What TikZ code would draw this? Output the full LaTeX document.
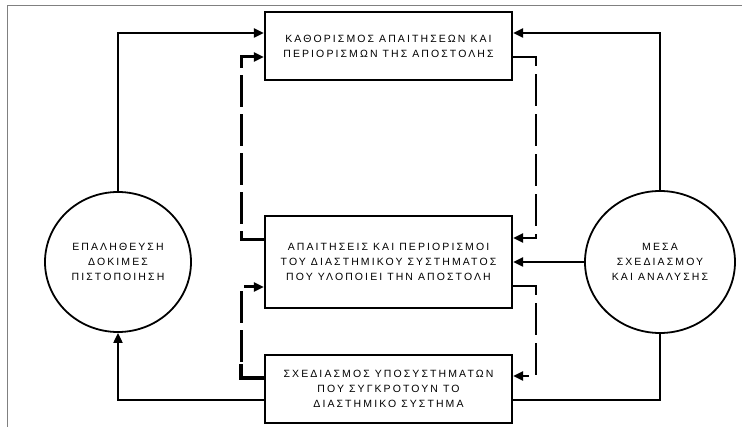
\documentclass[tikz,border=0pt]{standalone}
\usepackage{fontspec}
\newfontfamily\grfont[LetterSpace=20]{Liberation Sans}
\usetikzlibrary{arrows.meta,shapes.geometric}
\begin{document}
\begin{tikzpicture}[x=1pt,y=-1pt,
  lbl/.style={align=center,font=\grfont\fontsize{10.5}{15}\selectfont},
  box/.style={lbl,draw,line width=2.2pt,minimum width=247pt,inner sep=0pt},
  circ/.style={lbl,draw,ellipse,line width=1.8pt,inner sep=0pt},
  conn/.style={line width=2pt},
  tip/.style={-{Triangle[length=10pt,width=9pt]}},
  arr/.style={conn,tip},
  dashL/.style={line width=3pt,dash pattern=on 32pt off 7pt,tip},
  dashR/.style={line width=2.2pt,dash pattern=on 32pt off 8pt,tip},
]
\useasboundingbox (0,0) rectangle (742,427);
\draw[gray,line width=1pt] (742,6) -- (7.5,6) -- (7.5,427);

\node[box,minimum height=68pt] (top) at (388.5,46)
  {ΚΑΘΟΡΙΣΜΟΣ ΑΠΑΙΤΗΣΕΩΝ ΚΑΙ\\ΠΕΡΙΟΡΙΣΜΩΝ ΤΗΣ ΑΠΟΣΤΟΛΗΣ};
\node[box,minimum height=92pt] (mid) at (388.5,262)
  {ΑΠΑΙΤΗΣΕΙΣ ΚΑΙ ΠΕΡΙΟΡΙΣΜΟΙ\\ΤΟΥ ΔΙΑΣΤΗΜΙΚΟΥ ΣΥΣΤΗΜΑΤΟΣ\\ΠΟΥ ΥΛΟΠΟΙΕΙ ΤΗΝ ΑΠΟΣΤΟΛΗ};
\node[box,minimum height=68pt] (bot) at (388.5,389)
  {ΣΧΕΔΙΑΣΜΟΣ ΥΠΟΣΥΣΤΗΜΑΤΩΝ\\ΠΟΥ ΣΥΓΚΡΟΤΟΥΝ ΤΟ\\ΔΙΑΣΤΗΜΙΚΟ ΣΥΣΤΗΜΑ};
\node[circ,minimum width=146pt,minimum height=140pt] (lc) at (118,262)
  {ΕΠΑΛΗΘΕΥΣΗ\\ΔΟΚΙΜΕΣ\\ΠΙΣΤΟΠΟΙΗΣΗ};
\node[circ,minimum width=150pt,minimum height=142pt] (rc) at (660,262)
  {ΜΕΣΑ\\ΣΧΕΔΙΑΣΜΟΥ\\ΚΑΙ ΑΝΑΛΥΣΗΣ};

\coordinate (tW1) at ([yshift=13pt]top.west);
\coordinate (tW2) at ([yshift=-11pt]top.west);
\coordinate (tE1) at ([yshift=13pt]top.east);
\coordinate (tE2) at ([yshift=-11pt]top.east);
\coordinate (mW1) at ([yshift=22pt]mid.west);
\coordinate (mW2) at ([yshift=-25pt]mid.west);
\coordinate (mE1) at ([yshift=24pt]mid.east);
\coordinate (mE3) at ([yshift=-24pt]mid.east);
\coordinate (bW1) at ([yshift=11pt]bot.west);
\coordinate (bW2) at ([yshift=-11pt]bot.west);
\coordinate (bE1) at ([yshift=13pt]bot.east);
\coordinate (bE2) at ([yshift=-11pt]bot.east);
\coordinate (xL) at (241,0);
\coordinate (xR) at (536,0);

\draw[arr] (lc.north) |- (tW1);
\draw[arr] (rc.north) |- (tE1);
\draw[arr] (rc.west) -- (mid.east);
\draw[arr] (bW2) -| (lc.south);
\draw[conn] (bE2) -| (rc.south);

\draw[dashL] (mW1) -- (mW1 -| xL) |- (tW2);
\draw[dashR] (tE2) -- (tE2 -| xR) |- (mE1);
\draw[dashL] (bW1) -- (bW1 -| xL) |- (mW2);
\draw[dashR] (mE3) -- (mE3 -| xR) |- (bE1);
\draw[line width=3.5pt] (bW1) -- (bW1 -| xL) -- ([yshift=14pt]bW1 -| xL);
\end{tikzpicture}
\end{document}
